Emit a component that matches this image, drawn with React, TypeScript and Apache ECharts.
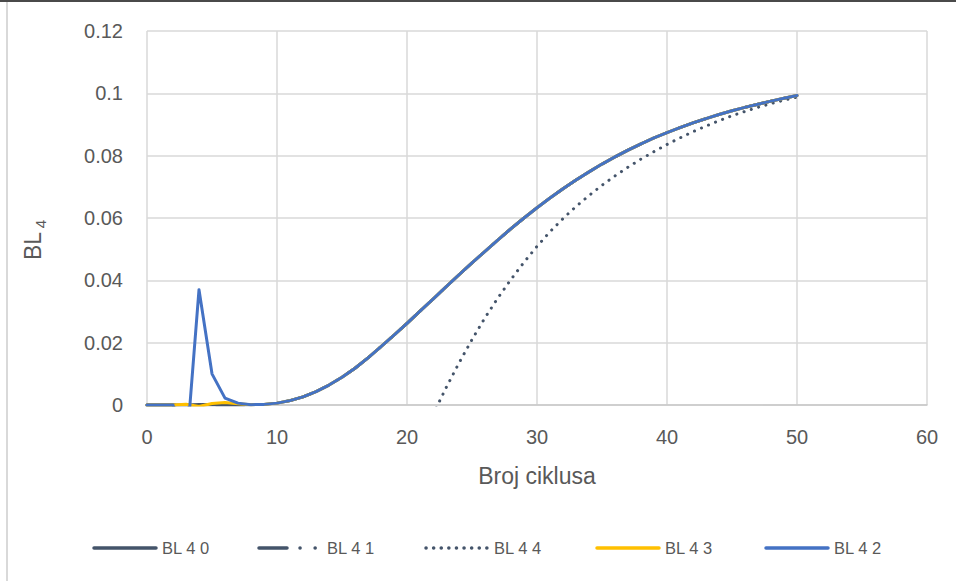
import React, { useEffect, useRef } from "react";
import * as echarts from "echarts";

// x positions (cycles)
const prefixX = [0, 1, 2, 3, 4, 5, 6, 7];
const mainX = [8, 9, 10, 11, 12, 13, 14, 15, 16, 17, 18, 19, 20, 21, 22, 23, 24, 25, 26, 27, 28, 29, 30,
  31, 32, 33, 34, 35, 36, 37, 38, 39, 40, 41, 42, 43, 44, 45, 46, 47, 48, 49, 50];
// shared main curve (BL 4 0, BL 4 1, BL 4 3, BL 4 2 coincide from x = 8)
const mainCurve = [0.0001, 0.0002, 0.0006, 0.0014, 0.0026, 0.0043, 0.0064, 0.0089, 0.0118, 0.0151, 0.0187,
  0.0224, 0.0262, 0.0301, 0.034, 0.0379, 0.0418, 0.0456, 0.0493, 0.053, 0.0566, 0.06, 0.0633,
  0.0664, 0.0694, 0.0722, 0.0748, 0.0773, 0.0796, 0.0818, 0.0838, 0.0857, 0.0874, 0.089, 0.0905,
  0.0919, 0.0932, 0.0944, 0.0955, 0.0965, 0.0975, 0.0984, 0.0993];
// early behaviour of each series (x = 0..7)
const bl40Start = [0, 0, 0, 0, 0.0002, 0.0001, 0.0001, 0.0001];
const bl41Start = [0, 0, 0, 0, 0.0002, 0.0001, 0.0001, 0.0001];
const bl43Start = [0, 0, 0, 0.00025, -0.0005, 0.0005, 0.0008, 0.0004];
const bl42Start = [0, 0, 0, -0.016, 0.037, 0.01, 0.0022, 0.0006];
// BL 4 4 (dotted)
const bl44X = [22, 23, 24, 25, 26, 27, 28, 29, 30, 31, 32, 33, 34, 35, 36, 37, 38, 39, 40, 41, 42, 43, 44,
  45, 46, 47, 48, 49, 50];
const bl44 = [-0.0031, 0.0055, 0.0135, 0.021, 0.028, 0.0344, 0.0403, 0.0458, 0.0509, 0.0556, 0.0598,
  0.0637, 0.0672, 0.0705, 0.0735, 0.0763, 0.0789, 0.0813, 0.0836, 0.0857, 0.0877, 0.0895, 0.0912,
  0.0928, 0.0942, 0.0955, 0.0967, 0.0978, 0.0988];

const seriesNames = ["BL 4 0", "BL 4 1", "BL 4 4", "BL 4 3", "BL 4 2"];

const pairs = (xs: number[], ys: number[]) => xs.map((x, i) => [x, ys[i]]);
const full = (start: number[]) => pairs(prefixX.concat(mainX), start.concat(mainCurve));

const DARK = "#44546A";
const YELLOW = "#FFC000";
const BLUE = "#4472C4";
const DASH_DOT = [28, 13, 0.1, 15, 0.1, 13];
const DOTS = [0.1, 7.5];

const seriesStyles = [
  { color: DARK, dash: null as number[] | null },
  { color: DARK, dash: DASH_DOT },
  { color: DARK, dash: DOTS },
  { color: YELLOW, dash: null },
  { color: BLUE, dash: null },
];

export default function App() {
  const ref = useRef<HTMLDivElement>(null);
  useEffect(() => {
    if (!ref.current) return;
    const chart = echarts.init(ref.current, null, { renderer: "svg" });
    const font = "'Liberation Sans', Arial, sans-serif";
    const textColor = "#595959";
    const lineBase = { width: 3, cap: "round" as const, join: "round" as const };

    // manual legend (line samples without markers)
    const legendSampleX = [94, 259, 426, 597, 766];
    const legendY = 548;
    const legendGraphics: any[] = [];
    seriesNames.forEach((name, i) => {
      const st = seriesStyles[i];
      const x0 = legendSampleX[i];
      legendGraphics.push({
        type: "line",
        silent: true,
        shape: { x1: x0, y1: legendY, x2: x0 + 62, y2: legendY },
        style: {
          stroke: st.color,
          lineWidth: 3.5,
          lineCap: "round",
          lineDash: st.dash || undefined,
        },
      });
      legendGraphics.push({
        type: "text",
        silent: true,
        x: x0 + 68,
        y: legendY,
        style: {
          text: name,
          fill: textColor,
          fontSize: 16.5,
          fontFamily: font,
          align: "left",
          verticalAlign: "middle",
        },
      });
    });

    const mk = (i: number, data: number[][]) => ({
      name: seriesNames[i],
      type: "line",
      symbol: "none",
      clip: true,
      data,
      color: seriesStyles[i].color,
      lineStyle: {
        ...lineBase,
        color: seriesStyles[i].color,
        type: seriesStyles[i].dash || "solid",
      },
    });

    chart.setOption({
      animation: false,
      backgroundColor: "#ffffff",
      textStyle: { fontFamily: font },
      grid: { left: 147, right: 29, top: 31, bottom: 176 },
      xAxis: {
        type: "value",
        min: 0,
        max: 60,
        interval: 10,
        axisLine: { show: true, lineStyle: { color: "#C8C8C8", width: 1.5 } },
        axisTick: { show: false },
        axisLabel: { color: textColor, fontSize: 20, margin: 22, fontFamily: font },
        splitLine: { show: true, lineStyle: { color: "#D9D9D9", width: 1.5 } },
        name: "Broj ciklusa",
        nameLocation: "middle",
        nameGap: 59,
        nameTextStyle: { color: textColor, fontSize: 23, fontFamily: font },
      },
      yAxis: {
        type: "value",
        min: 0,
        max: 0.12,
        interval: 0.02,
        axisLine: { show: false },
        axisTick: { show: false },
        axisLabel: { color: textColor, fontSize: 20, margin: 24, fontFamily: font },
        splitLine: { show: true, lineStyle: { color: "#D9D9D9", width: 1.5 } },
      },
      graphic: [
        { type: "rect", shape: { x: 0, y: 0, width: 956, height: 2 }, style: { fill: "#4a4a4a" }, silent: true },
        { type: "rect", shape: { x: 6, y: 2, width: 2, height: 579 }, style: { fill: "#D9D9D9" }, silent: true },
        {
          type: "text", x: 33, y: 246, rotation: Math.PI / 2, silent: true,
          style: { text: "BL", fill: textColor, fontSize: 23, fontFamily: font, align: "center", verticalAlign: "middle" },
        },
        {
          type: "text", x: 40, y: 224, rotation: Math.PI / 2, silent: true,
          style: { text: "4", fill: textColor, fontSize: 15, fontFamily: font, align: "center", verticalAlign: "middle" },
        },
        ...legendGraphics,
      ],
      series: [
        mk(0, full(bl40Start)),
        mk(1, full(bl41Start)),
        mk(2, pairs(bl44X, bl44)),
        mk(3, full(bl43Start)),
        mk(4, full(bl42Start)),
      ],
    });
    return () => chart.dispose();
  }, []);
  return (
    <div
      ref={ref}
      style={{ position: "absolute", left: 0, top: 0, width: 956, height: 581 }}
    />
  );
}
